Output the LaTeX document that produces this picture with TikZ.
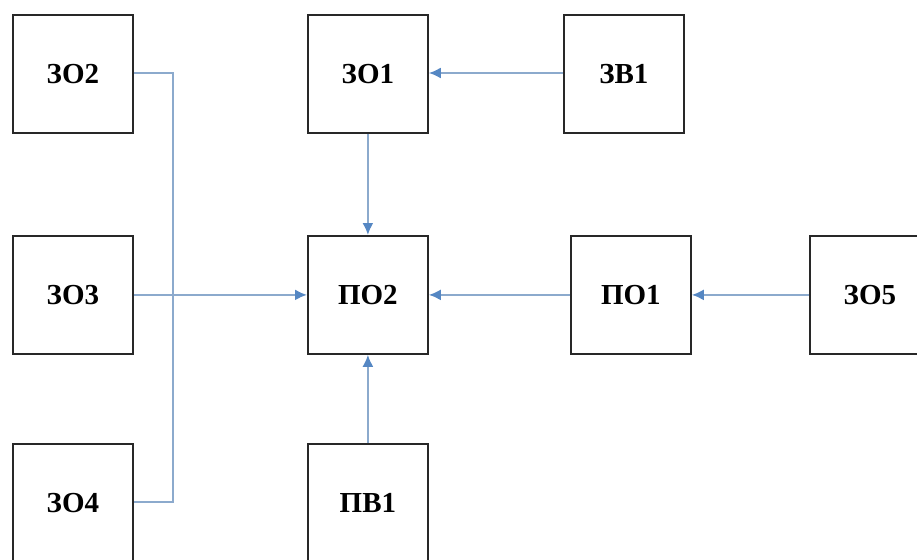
\documentclass[tikz,border=0pt]{standalone}
\usepackage{fontspec}
\setmainfont{Liberation Serif}
\usetikzlibrary{arrows.meta}
\definecolor{linkc}{RGB}{140,170,205}
\definecolor{tipc}{RGB}{85,135,195}
\definecolor{boxc}{RGB}{40,40,40}
\begin{document}
\begin{tikzpicture}[x=1pt,y=-1pt,
  blk/.style={draw=boxc,line width=1.8pt,fill=white,minimum width=120pt,minimum height=118pt,inner sep=0pt,anchor=north west,font=\fontsize{29}{32}\selectfont\bfseries},
  link/.style={draw=linkc,line width=2pt},
  arr/.style={link,-{Latex[length=12pt,width=11pt,color=tipc]}}]
\useasboundingbox (0,0) rectangle (917,559);
\fill[white] (0,0) rectangle (917,559);
\node[blk] (zo2) at (12,14) {ЗО2};
\node[blk] (zo1) at (307,14) {ЗО1};
\node[blk] (zv1) at (563,14) {ЗВ1};
\node[blk] (zo3) at (12,235) {ЗО3};
\node[blk] (po2) at (307,235) {ПО2};
\node[blk] (po1) at (570,235) {ПО1};
\node[blk] (zo5) at (809,235) {ЗО5};
\node[blk] (zo4) at (12,443) {ЗО4};
\node[blk] (pv1) at (307,443) {ПВ1};
\coordinate (jtop) at (173,73);
\coordinate (jbot) at (173,502);
\draw[link] (zo2.east |- jtop) -- (jtop) -- (jbot) -- (jbot -| zo4.east);
\draw[arr] (zo3.east) -- (po2.west);
\draw[arr] (zv1.west |- jtop) -- (zo1.east |- jtop);
\draw[arr] (zo1.south) -- (po2.north);
\draw[arr] (pv1.north) -- (po2.south);
\draw[arr] (po1.west) -- (po2.east);
\draw[arr] (zo5.west) -- (po1.east);
\end{tikzpicture}
\end{document}
